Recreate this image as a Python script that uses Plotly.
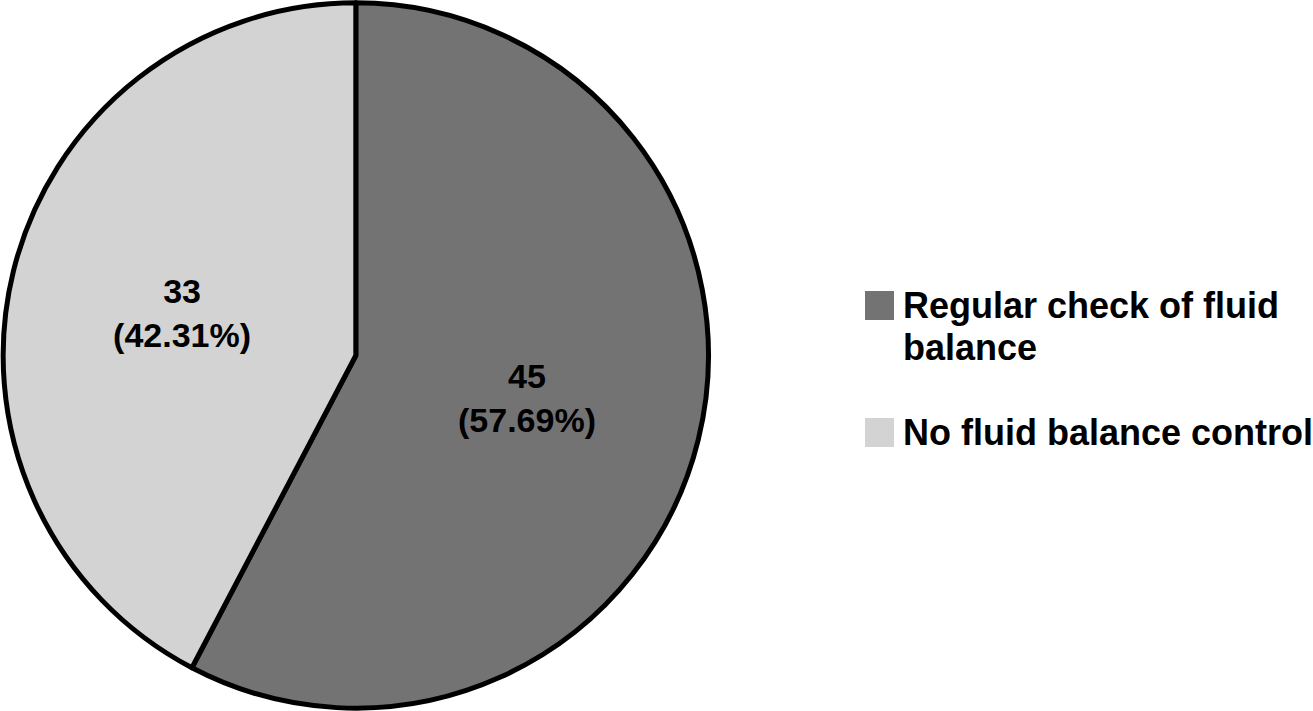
import plotly.graph_objects as go

labels = ["Regular check of fluid balance", "No fluid balance control"]
legend_lines = [["Regular check of fluid", "balance"], ["No fluid balance control"]]
values = [45, 33]
colors = ["#737373", "#d3d3d3"]

W, H = 1313, 711
FONT = "Liberation Sans, Arial, sans-serif"

fig = go.Figure()
fig.add_trace(go.Pie(
    labels=labels,
    values=values,
    sort=False,
    direction="clockwise",
    rotation=0,
    marker=dict(colors=colors, line=dict(color="black", width=5)),
    texttemplate="<b>%{value}<br>(%{percent:.2%})</b>",
    textposition="inside",
    insidetextorientation="horizontal",
    textfont=dict(family=FONT, size=34, color="black"),
    domain=dict(x=[0.002, 709 / W], y=[0.004, 0.996]),
    showlegend=False,
    hoverinfo="label+value+percent",
))

# Custom legend built from the label/color lists
sq = 29
x0 = 865
y_tops = [291, 418]
line_h = 42
for lines, col, yt in zip(legend_lines, colors, y_tops):
    fig.add_shape(type="rect", xref="paper", yref="paper",
                  x0=x0 / W, x1=(x0 + sq) / W,
                  y0=1 - (yt + sq) / H, y1=1 - yt / H,
                  fillcolor=col, line=dict(width=0))
    for i, ln in enumerate(lines):
        yc = yt + sq / 2 + i * line_h
        fig.add_annotation(xref="paper", yref="paper", x=(x0 + 36) / W, y=1 - yc / H,
                           xanchor="left", yanchor="middle", showarrow=False,
                           text="<b>" + ln + "</b>",
                           font=dict(family=FONT, size=36, color="black"))

fig.update_layout(
    width=W, height=H,
    margin=dict(l=0, r=0, t=0, b=0),
    paper_bgcolor="white", plot_bgcolor="white",
    font=dict(family=FONT),
)
fig.write_html("out.html",
               config={"displayModeBar": False},
               post_script="document.body.style.margin='0';document.body.style.overflow='hidden';")
